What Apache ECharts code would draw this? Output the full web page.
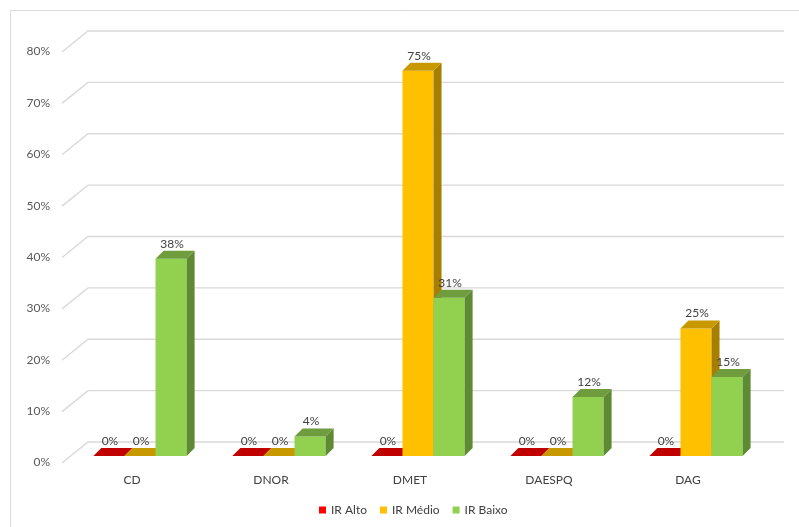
<!DOCTYPE html>
<html>
<head>
<meta charset="utf-8">
<script src="https://cdn.jsdelivr.net/npm/echarts@6/dist/echarts.min.js"></script>
<style>
html,body{margin:0;padding:0;background:#fff;}
#chart{width:799px;height:527px;}
</style>
</head>
<body>
<div id="chart"></div>
<script>
var categories = ['CD', 'DNOR', 'DMET', 'DAESPQ', 'DAG'];
var seriesNames = ['IR Alto', 'IR Médio', 'IR Baixo'];
var irAlto = [0, 0, 0, 0, 0];
var irMedio = [0, 0, 75, 0, 24.8];
var irBaixo = [38.4, 3.8, 30.8, 11.5, 15.4];
var yTicks = [0, 10, 20, 30, 40, 50, 60, 70, 80];

var palettes = [
  {front: '#FF0000', top: '#C00000', side: '#A00000'},
  {front: '#FFC000', top: '#C89800', side: '#A67E00'},
  {front: '#92D050', top: '#6F9D3E', side: '#5E8A33'}
];
var FONT = 'Lato, "Noto Sans", sans-serif';
var DX = 8, DY = -8;

function makeBarRender(sIdx) {
  var pal = palettes[sIdx];
  return function (params, api) {
    var cat = api.value(0), val = api.value(1);
    var band = api.size([1, 0])[0];
    var bw = band * 0.2235;
    var base = api.coord([cat, 0]);
    var top = api.coord([cat, val]);
    var x0 = base[0] + (sIdx - 1.5) * bw;
    var x1 = x0 + bw;
    var yb = base[1], yt = top[1];
    var children = [];
    if (yb - yt > 0.5) {
      children.push({type: 'rect', shape: {x: x0, y: yt, width: bw, height: yb - yt}, style: {fill: pal.front}});
      children.push({type: 'polygon', shape: {points: [[x1, yt], [x1 + DX, yt + DY], [x1 + DX, yb + DY], [x1, yb]]}, style: {fill: pal.side}});
    }
    children.push({type: 'polygon', shape: {points: [[x0, yt], [x1, yt], [x1 + DX, yt + DY], [x0 + DX, yt + DY]]}, style: {fill: pal.top}});
    children.push({type: 'text', style: {
      x: x0 + bw / 2 + 1, y: yt + DY - 1,
      text: Math.round(val) + '%',
      fill: '#404040', font: '12px ' + FONT,
      align: 'center', verticalAlign: 'bottom'
    }});
    return {type: 'group', children: children};
  };
}

function gridRender(params, api) {
  var cs = params.coordSys;
  var v = api.value(1);
  var p = api.coord([0, v]);
  var y = p[1];
  var left = cs.x;
  var right = cs.x + cs.width;
  return {
    type: 'polyline',
    shape: {points: [[left - 8.5, y + 7], [left + 17.5, y - 14], [right + 18.5, y - 14]]},
    style: {stroke: '#D9D9D9', lineWidth: 1.3, fill: null}
  };
}

function toData(arr) {
  return arr.map(function (v, i) { return [i, v]; });
}

var chart = echarts.init(document.getElementById('chart'), null, {renderer: 'canvas'});
chart.setOption({
  animation: false,
  backgroundColor: '#ffffff',
  textStyle: {fontFamily: FONT},
  graphic: [{
    type: 'rect', shape: {x: 10.5, y: 10.5, width: 800, height: 540},
    style: {fill: null, stroke: '#D9D9D9', lineWidth: 1}, silent: true, z: -10
  }],
  grid: {left: 70.5, right: 33.5, top: 45, bottom: 71, containLabel: false},
  legend: {
    data: seriesNames,
    bottom: 6,
    left: 314,
    icon: 'rect',
    itemWidth: 7,
    itemHeight: 7,
    itemGap: 13,
    textStyle: {color: '#404040', fontSize: 12, fontFamily: FONT}
  },
  xAxis: {
    type: 'category',
    data: categories,
    axisLine: {show: false},
    axisTick: {show: false},
    axisLabel: {color: '#404040', fontSize: 12, margin: 18, padding: [0, 16, 0, 0], fontFamily: FONT},
    splitLine: {show: false}
  },
  yAxis: {
    type: 'value',
    min: 0, max: 80, interval: 10,
    axisLine: {show: false},
    axisTick: {show: false},
    splitLine: {show: false},
    axisLabel: {formatter: '{value}%', color: '#595959', fontSize: 12, margin: 20.5, verticalAlign: 'top', lineHeight: 13, fontFamily: FONT}
  },
  series: [
    {type: 'custom', name: '_grid', silent: true, clip: false, z: 0,
     renderItem: gridRender, data: yTicks.map(function (t) { return [0, t]; })},
    {type: 'custom', name: seriesNames[0], clip: false, z: 2, itemStyle: {color: palettes[0].front},
     renderItem: makeBarRender(0), data: toData(irAlto)},
    {type: 'custom', name: seriesNames[1], clip: false, z: 3, itemStyle: {color: palettes[1].front},
     renderItem: makeBarRender(1), data: toData(irMedio)},
    {type: 'custom', name: seriesNames[2], clip: false, z: 4, itemStyle: {color: palettes[2].front},
     renderItem: makeBarRender(2), data: toData(irBaixo)}
  ]
});
</script>
</body>
</html>
